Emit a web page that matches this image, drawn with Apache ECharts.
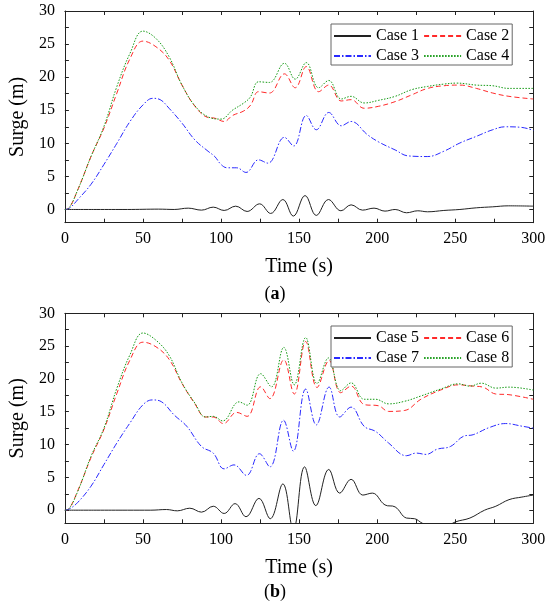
<!DOCTYPE html>
<html>
<head>
<meta charset="utf-8">
<script src="https://cdn.jsdelivr.net/npm/echarts@6/dist/echarts.min.js"></script>
<style>html,body{margin:0;padding:0;background:#fff}#c{width:550px;height:606px}</style>
</head>
<body>
<div id="c"></div>
<script>
// ---- data (time s, surge m) ----
var case1 = [[0,0],[20,0],[40,0],[60,0.05],[70,0],[79,0.2],[87.5,-0.1],[95,0.35],[102,-0.15],[109.4,0.5],[116.7,-0.3],[124.7,0.85],[131.8,-0.6],[139.6,1.5],[146.3,-1.0],[153.8,2.1],[161,-0.9],[168.8,1.5],[176.8,-0.2],[183.3,0.7],[190.6,-0.1],[198,0.2],[205,-0.25],[211.5,0],[218.8,-0.5],[226,-0.2],[232.3,-0.35],[242.7,-0.15],[253,0],[263.5,0.25],[274,0.4],[284,0.55],[300,0.5]];
var case2 = [[0,0],[2,0.1],[8.3,3.0],[16.7,8.0],[25,12.3],[33.3,17.6],[41.7,22.8],[50,25.45],[58.3,24.6],[66.7,22.6],[75,18.8],[83.3,15.6],[91.7,13.9],[96,13.8],[102,13.3],[107.3,14.2],[114.6,14.9],[119,15.8],[124,17.8],[131,17.6],[140.6,20.5],[147.5,18.4],[154.6,21.6],[162.5,17.8],[169,18.8],[177,16.4],[183.3,16.6],[191.7,15.3],[201,15.6],[211.5,16.3],[221.9,17.3],[232.3,18.3],[242.7,18.7],[253,18.8],[263.5,18.3],[274,17.6],[284.4,17.1],[300,16.7]];
var case3 = [[0,0],[3,0.2],[8.3,1.5],[16.7,3.8],[25,6.8],[33.3,10.0],[41.7,13.3],[50,15.8],[56.3,16.8],[61,16.6],[66.7,15.3],[75,13.05],[83.3,10.5],[91.7,8.8],[96,8.0],[100,6.8],[104,6.3],[110,6.3],[116,5.6],[124,7.5],[130,7.0],[140.6,10.9],[146.5,9.6],[154.6,14.2],[161,12.05],[169,14.66],[177,12.65],[183.3,13.3],[193.8,11.3],[201,10.2],[211.5,9.0],[219.8,8.1],[232.3,8.0],[242.7,8.8],[253,10.05],[263.5,11.05],[274,12.05],[282.3,12.5],[292.7,12.4],[300,11.95]];
var case4 = [[0,0],[2,0.1],[8.3,3.0],[16.7,8.0],[25,12.55],[33.3,18.6],[41.7,23.6],[50,26.96],[58.3,25.85],[66.7,23.1],[75,18.8],[83.3,15.66],[91.7,14.0],[100,13.66],[107.3,15.0],[114.6,16.1],[118.8,17.0],[124,19.3],[131,19.2],[140.6,22.1],[147.5,19.7],[154.6,22.2],[162.5,18.4],[169,19.5],[177,16.7],[183.3,17.1],[191.7,16.1],[201,16.5],[211.5,17.1],[222,18.1],[232.3,18.6],[242.7,18.95],[251,19.1],[263.5,18.8],[274,18.7],[284.4,18.3],[300,18.3]];
var case5 = [[0,0],[20,0],[40,0],[55,0],[65,0.1],[72,-0.1],[80,0.3],[87.5,-0.3],[95,0.6],[102,-0.5],[109,1.0],[116,-1.0],[124.3,1.8],[131.5,-1.3],[139.6,4.0],[146.3,-3.0],[153.5,6.6],[160.7,0.7],[169,6.2],[176,2.6],[183.3,4.7],[190.8,2.3],[196.9,2.6],[205,0.8],[211.5,0.5],[218.8,-1.2],[224,-1.3],[229,-2.0],[240,-3.0],[250,-1.8],[259.4,-1.2],[268.8,0],[276,0.6],[284.4,1.6],[292.7,2.0],[300,2.3]];
var case6 = [[0,0],[2,0.1],[8.3,3.0],[16.7,8.0],[25,12.3],[33.3,17.8],[41.7,22.9],[50,25.6],[58.3,24.9],[66.7,23.0],[75,19.3],[83.3,16.2],[90,14.2],[95,14.2],[101.5,13.2],[110,14.9],[116.7,14.3],[125.4,18.8],[131.3,17.0],[140.2,22.9],[146.9,17.7],[154.2,25.7],[161.5,18.7],[169.2,22.8],[176.7,17.9],[183.3,18.9],[191.7,16.1],[201,15.9],[207.3,15.05],[217.7,15.2],[228,16.9],[240.6,18.3],[252,19.1],[261.5,18.9],[267.7,18.75],[276,17.7],[284.4,17.6],[300,16.9]];
var case7 = [[0,0],[3,0.2],[8.3,1.2],[16.7,3.65],[25,6.95],[33.3,10.25],[41.7,13.3],[50,16.06],[56,16.8],[62,16.5],[70,14.5],[78,12.8],[87.5,9.7],[95,8.7],[102,6.3],[108.3,6.9],[116.3,5.3],[124.6,8.6],[131.3,6.6],[140,13.7],[146.3,9.0],[154.2,18.45],[161,13.0],[169.2,18.75],[176,14.2],[183.3,15.7],[191.7,12.77],[199,12.0],[207.3,10.24],[218.8,8.3],[225,8.7],[231.3,8.5],[238.5,9.3],[246.9,9.7],[255.2,11.25],[261.5,11.5],[271.9,12.6],[282.3,13.2],[292.7,12.8],[300,12.5]];
var case8 = [[0,0],[2,0.1],[8.3,2.9],[16.7,8.2],[25,12.5],[33.3,18.6],[41.7,23.7],[50,27.0],[58.3,25.9],[66.7,23.6],[75,19.4],[83.3,16.3],[90,14.2],[95,14.3],[101,13.6],[111.5,16.5],[116.7,16.0],[125.4,20.8],[132.3,18.8],[140.2,24.8],[146.9,19.1],[154.2,26.3],[161.5,19.3],[168.8,23.2],[176.7,18.2],[183.3,19.4],[191.7,16.9],[199,16.9],[207.3,16.2],[217.7,16.6],[228,17.4],[240.6,18.45],[252,19.25],[259.4,18.9],[266.7,19.35],[276,18.6],[284.4,18.75],[300,18.3]];
var xTickValues = [0,25,50,75,100,125,150,175,200,225,250,275,300];
var xLabelValues = [0,50,100,150,200,250,300];
var yTickValues = [0,2.5,5,7.5,10,12.5,15,17.5,20,22.5,25,27.5,30];
var yLabelValues = [0,5,10,15,20,25,30];
var namesTop = ['Case 1','Case 2','Case 3','Case 4'];
var namesBot = ['Case 5','Case 6','Case 7','Case 8'];
var panelLabels = ['a','b'];

var FONT = '"Liberation Serif","Times New Roman",serif';
var styles = [
  {color:'#222222', type:'solid'},
  {color:'#ff2a2a', type:[5,3]},
  {color:'#2a2aff', type:[6,2,1.5,2]},
  {color:'#159a15', type:[1.5,1.5]}
];
var chart = echarts.init(document.getElementById('c'), null, {renderer:'canvas'});
var grids = [
  {left:53.3, top:11, width:480, height:211.7},
  {left:53.3, top:313.3, width:480, height:210}
];
function xAx(g, pos, main){
  return {type:'value', gridIndex:g, position:pos, min:0, max:300,
    axisLine:{show:true, onZero:false, lineStyle:{color:'#222', width:1}},
    axisTick:{show:true, inside:true, length:4, customValues:xTickValues, lineStyle:{color:'#222'}},
    axisLabel:{show:main, customValues:xLabelValues, margin:8, color:'#000', fontSize:16, fontFamily:FONT},
    splitLine:{show:false},
    name: main ? 'Time (s)' : '', nameLocation:'middle', nameGap:34,
    nameTextStyle:{color:'#000', fontSize:20, fontFamily:FONT}};
}
function yAx(g, pos, main){
  return {type:'value', gridIndex:g, position:pos, min:-2, max:30,
    axisLine:{show:true, onZero:false, lineStyle:{color:'#222', width:1}},
    axisTick:{show:true, inside:true, length:4, customValues:yTickValues, lineStyle:{color:'#222'}},
    axisLabel:{show:main, customValues:yLabelValues, margin:10, color:'#000', fontSize:16, fontFamily:FONT},
    splitLine:{show:false},
    name: main ? 'Surge (m)' : '', nameLocation:'middle', nameGap:29,
    nameTextStyle:{color:'#000', fontSize:20, fontFamily:FONT}};
}
var series = [];
var dataTop = [case1, case2, case3, case4];
var dataBot = [case5, case6, case7, case8];
[ [namesTop, dataTop], [namesBot, dataBot] ].forEach(function(p, g){
  p[0].forEach(function(nm, i){
    series.push({type:'line', name:nm, data:p[1][i], xAxisIndex:g*2, yAxisIndex:g*2,
      smooth:0.4, symbol:'none', clip:true,
      lineStyle:{color:styles[i].color, type:styles[i].type, width:1},
      itemStyle:{color:styles[i].color}});
  });
});
function legend(names, top){
  return {data:names, left:331, top:top, width:190, orient:'horizontal',
    itemWidth:37, itemHeight:12, itemGap:4, padding:[4,3,1,2],
    itemStyle:{opacity:0},
    borderColor:'#666', borderWidth:1, backgroundColor:'#fff',
    textStyle:{color:'#000', fontSize:16, fontFamily:FONT, padding:[0,4,0,0]}};
}
var option = {
  animation:false,
  backgroundColor:'#fff',
  grid: grids.map(function(g){ return Object.assign({show:false, containLabel:false}, g); }),
  xAxis:[xAx(0,'bottom',true), xAx(0,'top',false), xAx(1,'bottom',true), xAx(1,'top',false)],
  yAxis:[yAx(0,'left',true), yAx(0,'right',false), yAx(1,'left',true), yAx(1,'right',false)],
  legend:[legend(namesTop,24), legend(namesBot,326)],
  series:series,
  graphic:[
    {type:'text', left:'center', top:285, style:{text:'(' + '{b|' + panelLabels[0] + '})', fill:'#000', font:'18px ' + FONT, rich:{b:{fontWeight:'bold', fontSize:18, fontFamily:FONT}}}, x:-21},
    {type:'text', left:'center', top:583, style:{text:'(' + '{b|' + panelLabels[1] + '})', fill:'#000', font:'18px ' + FONT, rich:{b:{fontWeight:'bold', fontSize:18, fontFamily:FONT}}}, x:-21}
  ]
};
chart.setOption(option);
</script>
</body>
</html>
